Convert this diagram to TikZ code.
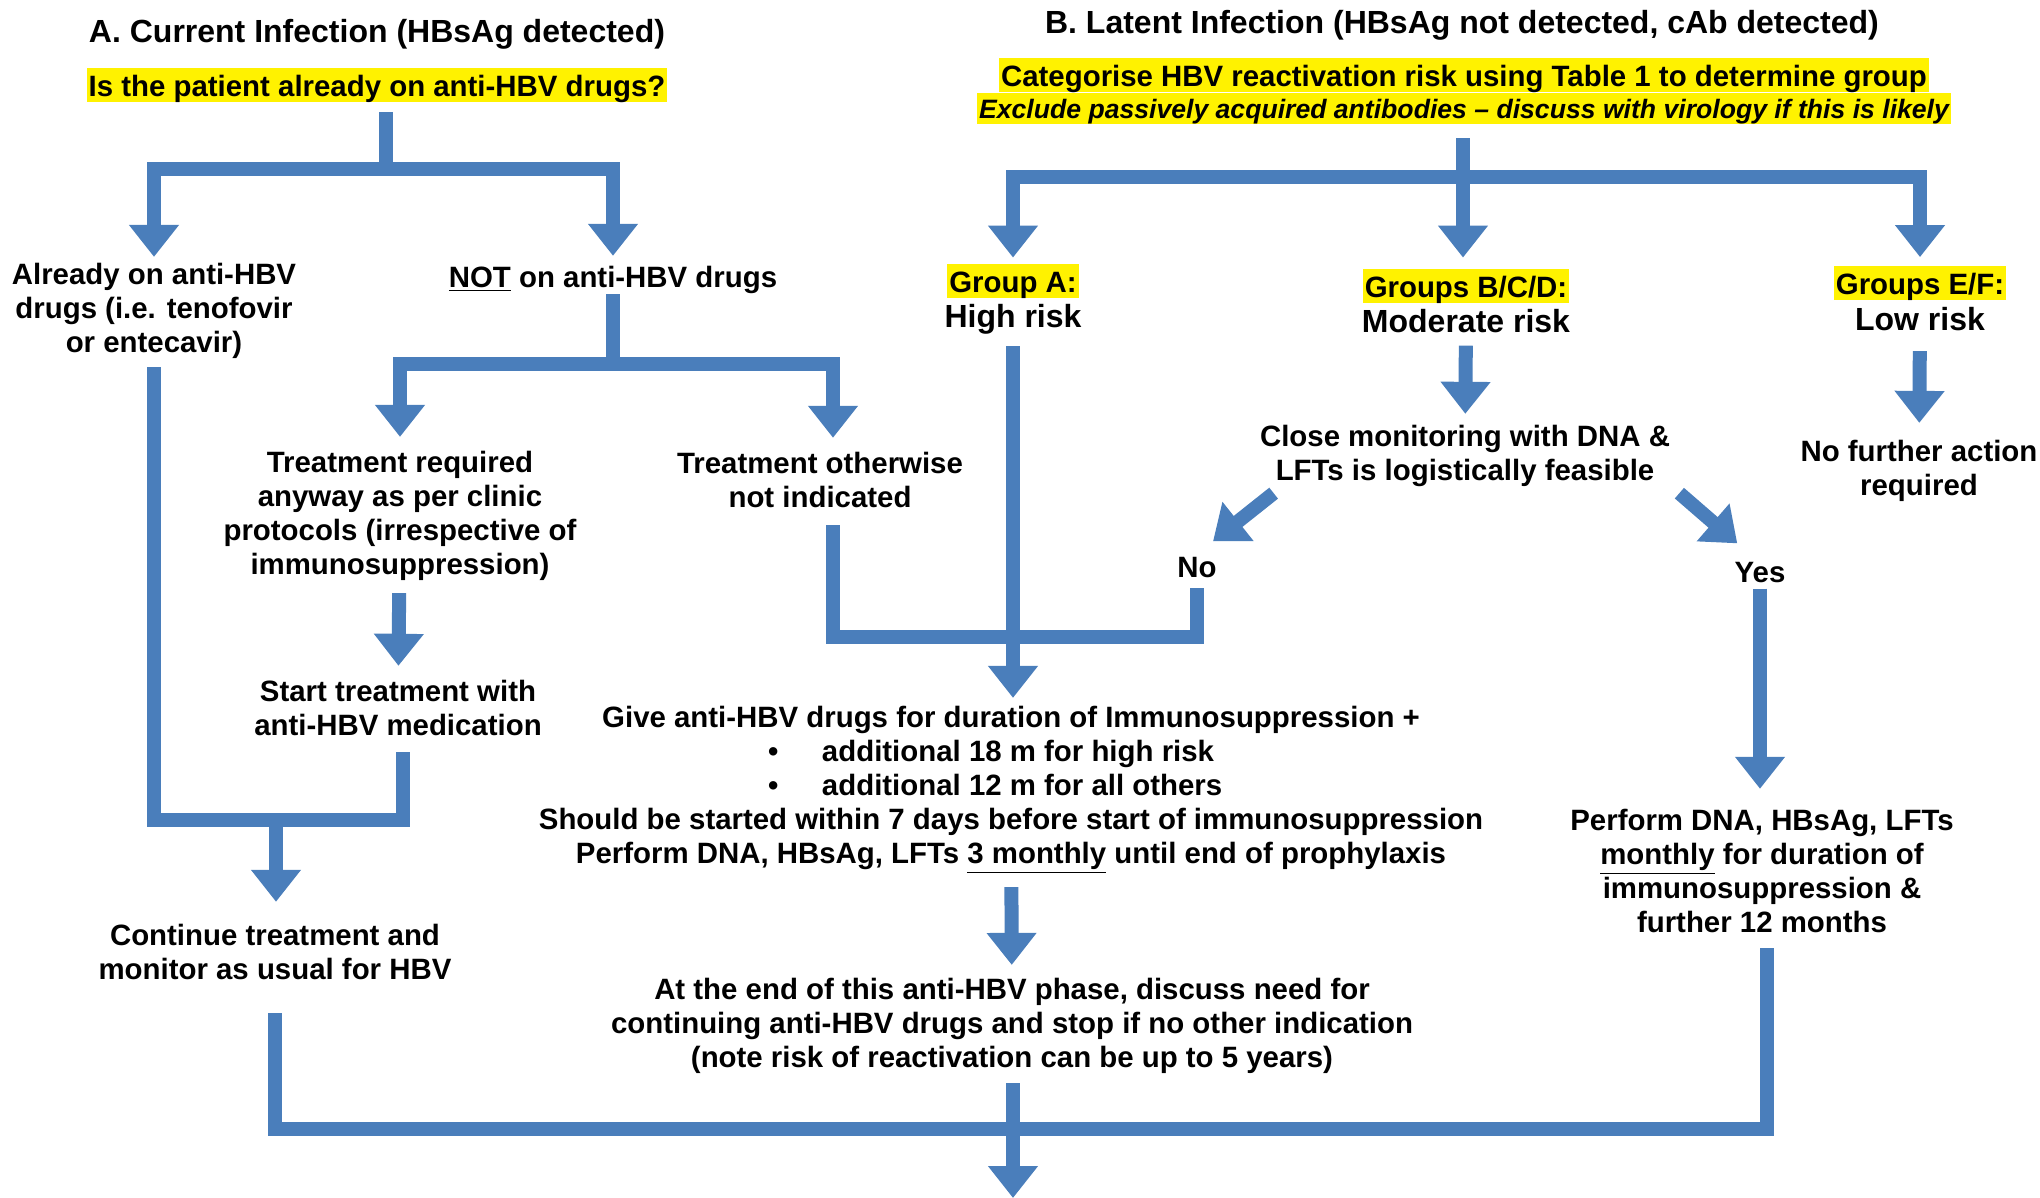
\documentclass[tikz,border=0pt]{standalone}
\usepackage{fontspec}
\setmainfont{Liberation Sans}
\usepackage{xcolor}
\usetikzlibrary{arrows.meta,positioning,calc}
\definecolor{flowblue}{RGB}{74,126,187}
\newcommand\bodyfont{\fontsize{14.7pt}{17pt}\selectfont\bfseries}
\newcommand\headfont{\fontsize{16pt}{19pt}\selectfont\bfseries}
\newcommand\notefont{\fontsize{13.3pt}{15.5pt}\selectfont\bfseries\itshape}

\begin{document}
\begin{tikzpicture}[
    x=0.5pt, y=-0.5pt,
    flow/.style={draw=flowblue, line width=7pt},
    arr/.style={flow, -{Triangle[length=16pt, width=24pt]}},
    lbl/.style={align=center, inner sep=0pt, font=\bodyfont},
    head/.style={inner sep=0pt, font=\headfont},
    hl/.style={fill=yellow, inner xsep=1pt, inner ysep=0pt,
               text height=14.2pt, text depth=2.8pt, font=\bodyfont}
]
\useasboundingbox (0,0) rectangle (2040,1198);

% A. current infection
\node[head] (titleA) at (377,34) {A. Current Infection (HBsAg detected)};
\node[hl] (qA) at (377,85) {Is the patient already on anti-HBV drugs?};
\node[lbl] (already) at (154,311) {Already on anti-HBV\\drugs (i.e. tenofovir\\or entecavir)};
\node[lbl] (notOn) at (613,280) {\underline{NOT} on anti-HBV drugs};
\node[lbl] (treatReq) at (400,516) {Treatment required\\anyway as per clinic\\protocols (irrespective of\\immunosuppression)};
\node[lbl] (startTr) at (398,708) {Start treatment with\\anti-HBV medication};
\node[lbl] (otherw) at (820,480) {Treatment otherwise\\not indicated};
\node[lbl] (cont) at (275,952) {Continue treatment and\\monitor as usual for HBV};

% B. latent infection
\node[head] (titleB) at (1462,25) {B. Latent Infection (HBsAg not detected, cAb detected)};
\node[hl] (catB) at (1464,75) {Categorise HBV reactivation risk using Table 1 to determine group};
\node[hl, font=\notefont, text height=12.8pt, text depth=2.7pt, below=0pt of catB] (exclB)
    {Exclude passively acquired antibodies -- discuss with virology if this is likely};
\node[hl] (grpA) at (1013,281) {Group A:};
\node[head, below=3pt of grpA] (highA) {High risk};
\node[hl] (grpB) at (1466,286) {Groups B/C/D:};
\node[head, below=3pt of grpB] (modB) {Moderate risk};
\node[hl] (grpE) at (1920,283.5) {Groups E/F:};
\node[head, below=3pt of grpE] (lowE) {Low risk};
\node[lbl] (close) at (1465,456) {Close monitoring with DNA \&\\LFTs is logistically feasible};
\node[lbl] (no) at (1197,568) {No};
\node[lbl] (yes) at (1760,573) {Yes};
\node[lbl] (noFurther) at (1919,471) {No further action\\required};
\node[lbl] (give) at (1011,790) {Give anti-HBV drugs for duration of Immunosuppression +\\
    \makebox[243pt][l]{\makebox[27pt][l]{\textbullet}additional 18 m for high risk}\\
    \makebox[243pt][l]{\makebox[27pt][l]{\textbullet}additional 12 m for all others}\\
    Should be started within 7 days before start of immunosuppression\\
    Perform DNA, HBsAg, LFTs \underline{3 monthly} until end of prophylaxis};
\node[lbl] (atEnd) at (1012,1026) {At the end of this anti-HBV phase, discuss need for\\continuing anti-HBV drugs and stop if no other indication\\(note risk of reactivation can be up to 5 years)};
\node[lbl] (perfB) at (1762,871) {Perform DNA, HBsAg, LFTs\\\underline{monthly} for duration of\\immunosuppression \&\\further 12 months};

\coordinate (jA) at (386,169);
\coordinate (jN) at (613,364);
\coordinate (jS) at (276,820);
\coordinate (jB) at (1463,177);
\coordinate (jG) at (1013,637);
\coordinate (jEnd) at (1013,1129);
\coordinate (outB) at (1013,1198);

\draw[flow, shorten <=5pt] (qA.south -| jA) -- (jA);
\draw[arr, shorten >=3pt] (jA) -| (already);
\draw[arr, shorten >=5pt] (jA) -| (notOn);
\draw[flow] (notOn) -- (jN);
\draw[arr, shorten >=7pt] (jN) -| (treatReq);
\draw[arr, shorten >=7pt] (jN) -| ([xshift=6.5pt]otherw.north);
\draw[arr, shorten <=6pt, shorten >=7pt] (treatReq) -- (startTr);
\draw[flow, shorten <=4pt, shorten >=8pt] (already) |- (jS) -| ([xshift=2.5pt]startTr.south);
\draw[arr, shorten >=11pt] (jS) -- (jS |- cont.north);

\draw[flow, shorten <=7pt] (exclB.south -| jB) -- (jB);
\draw[arr, shorten >=3pt] (jB) -| (grpA);
\draw[arr, shorten >=5.5pt] (jB) -- (jB |- grpB.north);
\draw[arr, shorten >=4.5pt] (jB) -| (grpE);
\draw[arr, shorten <=6pt, shorten >=5.5pt] (modB) -- (close);
\draw[arr, shorten <=10pt, shorten >=8.5pt] (lowE) -- (noFurther);
\draw[arr] ($(close.south west)+(14,6)$) -- ($(no.north east)+(-4,-16)$);
\draw[arr] ($(close.south east)+(9,6)$) -- ($(yes.north west)+(3,-19)$);
\draw[arr, shorten <=2.5pt, shorten >=10pt] (yes) -- (yes |- perfB.north);
\draw[arr, shorten <=5.5pt, shorten >=4pt] (highA.south) -- (highA.south |- give.north);
\draw[flow, shorten <=8.5pt, shorten >=4.5pt] ([xshift=6.5pt]otherw.south) |- (jG) -| (no);
\draw[arr, shorten <=6.5pt, shorten >=6.5pt] (give) -- (atEnd);

\draw[flow, shorten <=16.5pt, shorten >=7.5pt] (cont) |- (jEnd) -| ([xshift=2.5pt]perfB.south);
\draw[arr, shorten <=4.5pt] (atEnd.south -| outB) -- (outB);
\end{tikzpicture}
\end{document}
